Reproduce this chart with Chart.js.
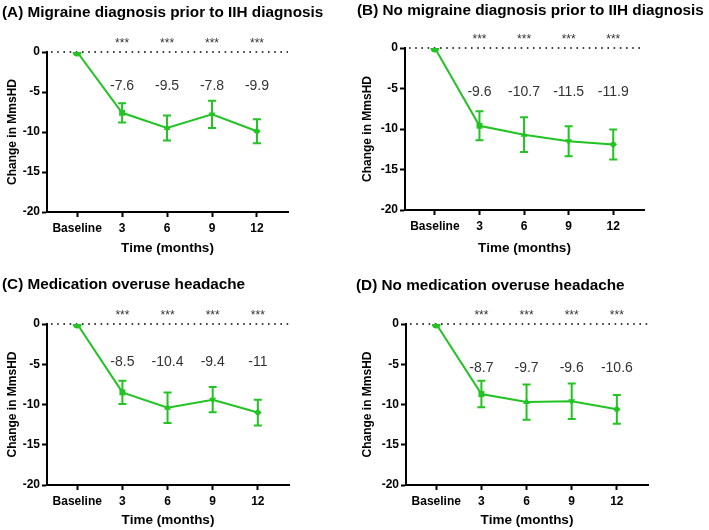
<!DOCTYPE html>
<html>
<head>
<meta charset="utf-8">
<script src="https://cdn.jsdelivr.net/npm/chart.js@4/dist/chart.umd.min.js"></script>
<style>
  html, body { margin: 0; padding: 0; background: #fff; }
  body { width: 709px; height: 530px; position: relative; overflow: hidden; }
  .panel { position: absolute; }
</style>
</head>
<body>
<div class="panel" style="left:0px;top:0px;width:354px;height:262px"><canvas id="cA"></canvas></div>
<div class="panel" style="left:355px;top:0px;width:354px;height:262px"><canvas id="cB"></canvas></div>
<div class="panel" style="left:0px;top:266px;width:354px;height:264px"><canvas id="cC"></canvas></div>
<div class="panel" style="left:355px;top:266px;width:354px;height:264px"><canvas id="cD"></canvas></div>
<script>
// ---- data ----
const timeLabels = ['Baseline', '3', '6', '9', '12'];
const yTicks = [0, -5, -10, -15, -20];

const titleA = '(A) Migraine diagnosis prior to IIH diagnosis';
const meanA  = [0, -7.6, -9.5, -7.8, -9.9];
const errA   = [0, 1.2, 1.55, 1.7, 1.5];

const titleB = '(B) No migraine diagnosis prior to IIH diagnosis';
const meanB  = [0, -9.6, -10.7, -11.5, -11.9];
const errB   = [0, 1.8, 2.15, 1.85, 1.85];

const titleC = '(C) Medication overuse headache';
const meanC  = [0, -8.5, -10.4, -9.4, -11];
const errC   = [0, 1.45, 1.9, 1.57, 1.6];

const titleD = '(D) No medication overuse headache';
const meanD  = [0, -8.7, -9.7, -9.6, -10.6];
const errD   = [0, 1.65, 2.2, 2.2, 1.78];

const sigMarks = ['', '***', '***', '***', '***'];

// ---- styles ----
const GREEN = '#22c322';
const FONT = '"Liberation Sans", Arial, Helvetica, sans-serif';

const overlayPlugin = {
  id: 'overlay',
  beforeDatasetsDraw(chart) {
    const {ctx, scales: {x, y}} = chart;
    const y0 = y.getPixelForValue(0);
    ctx.save();
    ctx.strokeStyle = '#000';
    ctx.lineWidth = 1.6;
    ctx.setLineDash([1.6, 4.6]);
    ctx.beginPath();
    ctx.moveTo(x.left + 4, y0);
    ctx.lineTo(x.right, y0);
    ctx.stroke();
    ctx.restore();
  },
  afterDraw(chart) {
    const {ctx} = chart;
    const cfg = chart.options.plugins.overlay;
    ctx.save();
    ctx.fillStyle = '#000';
    ctx.textAlign = 'left';
    ctx.textBaseline = 'middle';
    ctx.font = 'bold 15.3px ' + FONT;
    ctx.fillText(cfg.title, cfg.titleX, cfg.titleY);
    ctx.restore();
  },
  afterDatasetsDraw(chart) {
    const {ctx, scales: {x, y}} = chart;
    const cfg = chart.options.plugins.overlay;
    const means = cfg.means, errs = cfg.errs;
    ctx.save();
    ctx.strokeStyle = GREEN;
    ctx.lineWidth = 2;
    means.forEach((m, i) => {
      if (!errs[i]) return;
      const px = x.getPixelForValue(i);
      const top = y.getPixelForValue(m + errs[i]);
      const bot = y.getPixelForValue(m - errs[i]);
      ctx.beginPath();
      ctx.moveTo(px, top); ctx.lineTo(px, bot);
      ctx.moveTo(px - 4, top); ctx.lineTo(px + 4, top);
      ctx.moveTo(px - 4, bot); ctx.lineTo(px + 4, bot);
      ctx.stroke();
    });
    ctx.fillStyle = '#333';
    ctx.textAlign = 'center';
    ctx.textBaseline = 'middle';
    const y0 = y.getPixelForValue(0);
    means.forEach((m, i) => {
      if (!sigMarks[i]) return;
      const px = x.getPixelForValue(i);
      ctx.font = '12px ' + FONT;
      ctx.fillText(sigMarks[i], px, y0 - 8);
      ctx.font = '14px ' + FONT;
      ctx.fillText(String(m), px, y.getPixelForValue(cfg.labelAt));
    });
    ctx.restore();
  }
};

function makeChart(id, title, means, errs, opts) {
  const pts = means.map((v, i) => ({x: i, y: v}));
  return new Chart(document.getElementById(id), {
    type: 'scatter',
    data: {
      datasets: [{
        data: pts,
        showLine: true,
        borderColor: GREEN,
        backgroundColor: GREEN,
        borderWidth: 2,
        tension: 0,
        pointStyle: ['circle', 'rect', 'triangle', 'triangle', 'rectRot'],
        pointRotation: [0, 0, 0, 180, 0],
        pointRadius: [4.5, 4.2, 4, 4, 3.8],
        pointBorderWidth: 0,
      }]
    },
    plugins: [overlayPlugin],
    options: {
      responsive: false,
      animation: false,
      devicePixelRatio: 1,
      layout: { padding: { left: 0, right: opts.padRight, top: opts.top, bottom: 0 } },
      plugins: {
        legend: { display: false },
        tooltip: { enabled: false },
        title: { display: false },
        overlay: { means: means, errs: errs, labelAt: opts.labelAt, title: title, titleX: opts.titleX, titleY: opts.titleY }
      },
      scales: {
        x: {
          type: 'linear',
          min: -0.67, max: 4.69,
          afterBuildTicks(s) { s.ticks = timeLabels.map((_, i) => ({value: i})); },
          afterFit(s) { s.height = opts.xHeight; },
          ticks: {
            color: '#000',
            padding: 4,
            font: { family: FONT, size: 12, weight: 'bold' },
            callback: (v) => timeLabels[v]
          },
          grid: { drawOnChartArea: false, drawTicks: true, tickLength: 5, tickColor: '#000', tickWidth: 2 },
          border: { display: true, color: '#000', width: 2 },
          title: {
            display: true, text: 'Time (months)', color: '#000',
            font: { family: FONT, size: 13.5, weight: 'bold' },
            padding: { top: 0, bottom: opts.xTitlePad }
          }
        },
        y: {
          min: -20, max: 0,
          afterBuildTicks(s) { s.ticks = yTicks.map(v => ({value: v})); },
          afterFit(s) { s.width = opts.yWidth; },
          ticks: {
            color: '#000',
            padding: 2,
            font: { family: FONT, size: 12, weight: 'bold' }
          },
          grid: { drawOnChartArea: false, drawTicks: true, tickLength: 5, tickColor: '#000', tickWidth: 2 },
          border: { display: true, color: '#000', width: 2 },
          title: {
            display: true, text: 'Change in MmsHD', color: '#000',
            font: { family: FONT, size: 12, weight: 'bold' },
            padding: { top: 5, bottom: 0 }
          }
        }
      }
    }
  });
}

function sizeCanvas(id, w, h) {
  const c = document.getElementById(id);
  c.width = w; c.height = h;
  c.style.width = w + 'px'; c.style.height = h + 'px';
}
sizeCanvas('cA', 354, 262);
sizeCanvas('cB', 354, 262);
sizeCanvas('cC', 354, 264);
sizeCanvas('cD', 354, 264);

makeChart('cA', titleA, meanA, errA, { padRight: 66, top: 52, titleX: 2, titleY: 13, xHeight: 50, xTitlePad: 6, yWidth: 47, labelAt: -4.25 });
makeChart('cB', titleB, meanB, errB, { padRight: 65, top: 48, titleX: 2, titleY: 11, xHeight: 52, xTitlePad: 6, yWidth: 50, labelAt: -5.4 });
makeChart('cC', titleC, meanC, errC, { padRight: 65, top: 58, titleX: 2, titleY: 19, xHeight: 45, xTitlePad: 2, yWidth: 47, labelAt: -4.7 });
makeChart('cD', titleD, meanD, errD, { padRight: 61, top: 58, titleX: 1, titleY: 20, xHeight: 45, xTitlePad: 2, yWidth: 51, labelAt: -5.5 });
</script>
</body>
</html>
